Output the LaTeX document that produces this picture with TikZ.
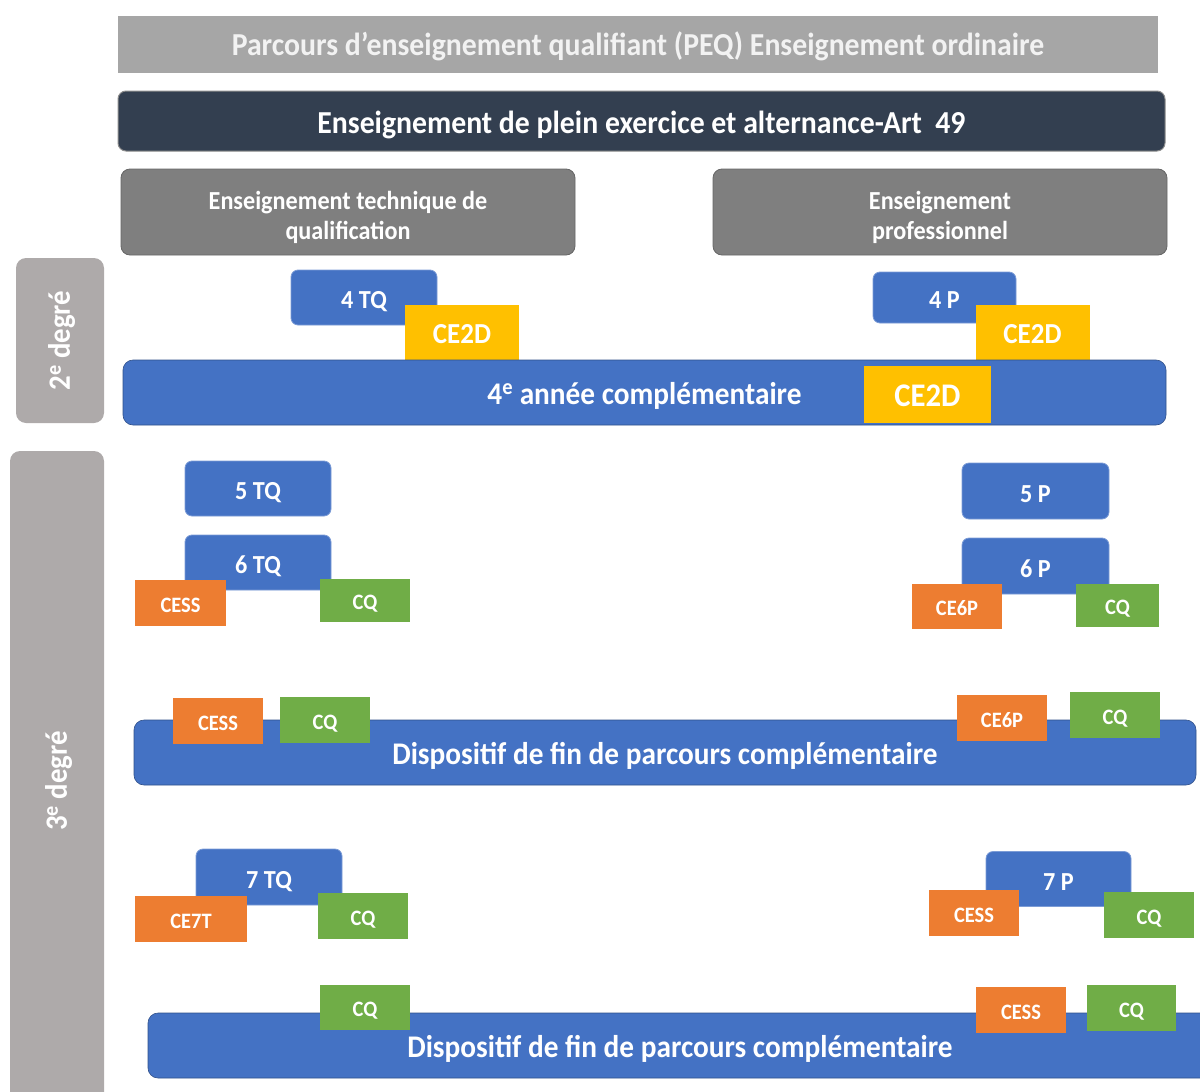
\documentclass[tikz,border=0pt]{standalone}
\usepackage{fontspec}
\setmainfont{Carlito}[FakeStretch=0.93]
\usetikzlibrary{positioning}
\definecolor{peqgray}{HTML}{A6A6A6}
\definecolor{navy}{HTML}{333F50}
\definecolor{midgray}{HTML}{7F7F7F}
\definecolor{sidegray}{HTML}{AEAAAA}
\definecolor{yearblue}{HTML}{4472C4}
\definecolor{ceyellow}{HTML}{FFC000}
\definecolor{certorange}{HTML}{ED7D31}
\definecolor{cqgreen}{HTML}{70AD47}

\begin{document}
\begin{tikzpicture}[x=1pt,y=-1pt,
    lbl/.style={inner sep=0pt, text=white, font=\bfseries, text depth=0pt},
    year/.style={lbl, fill=yearblue, draw=yearblue!70!white, line width=0.8pt,
      rounded corners=7, minimum width=146, minimum height=55,
      font=\fontsize{26}{28}\selectfont\bfseries, text height=22.4pt},
    bar/.style={lbl, fill=yearblue, draw=yearblue!70!black, line width=0.6pt,
      rounded corners=10, minimum height=65,
      font=\fontsize{31.5}{34}\selectfont\bfseries, text height=23pt},
    cert/.style={lbl, minimum width=90, minimum height=46,
      font=\fontsize{22}{24}\selectfont\bfseries, text height=18.5pt},
    cess/.style={cert, fill=certorange},
    cq/.style={cert, fill=cqgreen},
    ce2d/.style={lbl, fill=ceyellow, minimum width=114, minimum height=55,
      font=\fontsize{29}{31}\selectfont\bfseries, text height=21.5pt},
    branch/.style={lbl, fill=midgray, draw=black!60, line width=0.8pt,
      rounded corners=9, minimum width=454, minimum height=86, align=center,
      font=\fontsize{26}{30}\selectfont\bfseries, text height=54.4pt},
    degree/.style={lbl, fill=sidegray, rounded corners=10,
      font=\fontsize{31}{33}\selectfont\bfseries, text height=19.6pt}]
  \clip (0,0) rectangle (1200,1092);
  % Headers
  \node[lbl, fill=peqgray, minimum width=1040, minimum height=57,
    text=white!95!black, font=\fontsize{32}{34}\selectfont\bfseries,
    text height=21.1pt] (peq) at (638,44.5)
    {Parcours d’enseignement qualifiant (PEQ) Enseignement ordinaire};
  \node[lbl, fill=navy, draw=black!45, line width=1pt, rounded corners=8,
    minimum width=1047, minimum height=60,
    font=\fontsize{32}{34}\selectfont\bfseries, text height=24.3pt]
    (art) at (641.5,121) {Enseignement de plein exercice et alternance-Art\ \ 49};
  \node[branch] (tq) at (348,212) {Enseignement technique de\\qualification};
  \node[branch] (pro) at (940,212) {Enseignement\\professionnel};
  % Degrees
  \node[degree, minimum width=165, minimum height=88, rotate=90]
    (deg2) at (60,340.5) {2\textsuperscript{e} degré};
  \node[degree, minimum width=660, minimum height=94, rotate=90]
    (deg3) at (57,781) {3\textsuperscript{e} degré};
  % 2e degre
  \node[year] (tq4) at (364,297.5) {4 TQ};
  \node[ce2d] (tq4c) at (462,332.5) {CE2D};
  \node[year, minimum width=143, minimum height=51] (p4) at (944.5,297.5) {4 P};
  \node[ce2d] (p4c) at (1032.5,332.5) {CE2D};
  \node[bar, minimum width=1043] (ac) at (644.5,392.5) {4\textsuperscript{e} année complémentaire};
  \node[ce2d, minimum width=127, minimum height=57,
    font=\fontsize{33}{35}\selectfont\bfseries, text height=23.8pt]
    (acc) at (927.5,394.5) {CE2D};
  % 3e degre, 5e et 6e
  \node[year] (tq5) at (258,488.5) {5 TQ};
  \node[year] (tq6) at (258,562.5) {6 TQ};
  \node[cess, minimum width=91] (tq6a) at (180.5,603) {CESS};
  \node[cq, minimum height=43] (tq6b) at (365,600.5) {CQ};
  \node[year, minimum width=147, minimum height=56] (p5) at (1035.5,491) {5 P};
  \node[year, minimum width=147, minimum height=56] (p6) at (1035.5,566) {6 P};
  \node[cess, minimum height=45] (p6a) at (957,606.5) {CE6P};
  \node[cq, minimum width=83, minimum height=43] (p6b) at (1117.5,605.5) {CQ};
  \node[bar, minimum width=1062] (dfp1) at (665,752.5) {Dispositif de fin de parcours complémentaire};
  \node[cess] (dfp1a) at (218,721) {CESS};
  \node[cq] (dfp1b) at (325,720) {CQ};
  \node[cess] (dfp1c) at (1002,718) {CE6P};
  \node[cq] (dfp1d) at (1115,715) {CQ};
  % 3e degre, 7e
  \node[year, minimum height=56] (tq7) at (269,877) {7 TQ};
  \node[cess, minimum width=112] (tq7a) at (191,919) {CE7T};
  \node[cq] (tq7b) at (363,916) {CQ};
  \node[year, minimum width=145] (p7) at (1058.5,879) {7 P};
  \node[cess] (p7a) at (974,913) {CESS};
  \node[cq] (p7b) at (1149,915) {CQ};
  \node[bar, minimum width=1064] (dfp2) at (680,1045.5) {Dispositif de fin de parcours complémentaire};
  \node[cq, minimum height=45] (dfp2a) at (365,1007.5) {CQ};
  \node[cess] (dfp2b) at (1021,1010) {CESS};
  \node[cq, minimum width=89] (dfp2c) at (1131.5,1008) {CQ};
\end{tikzpicture}
\end{document}
